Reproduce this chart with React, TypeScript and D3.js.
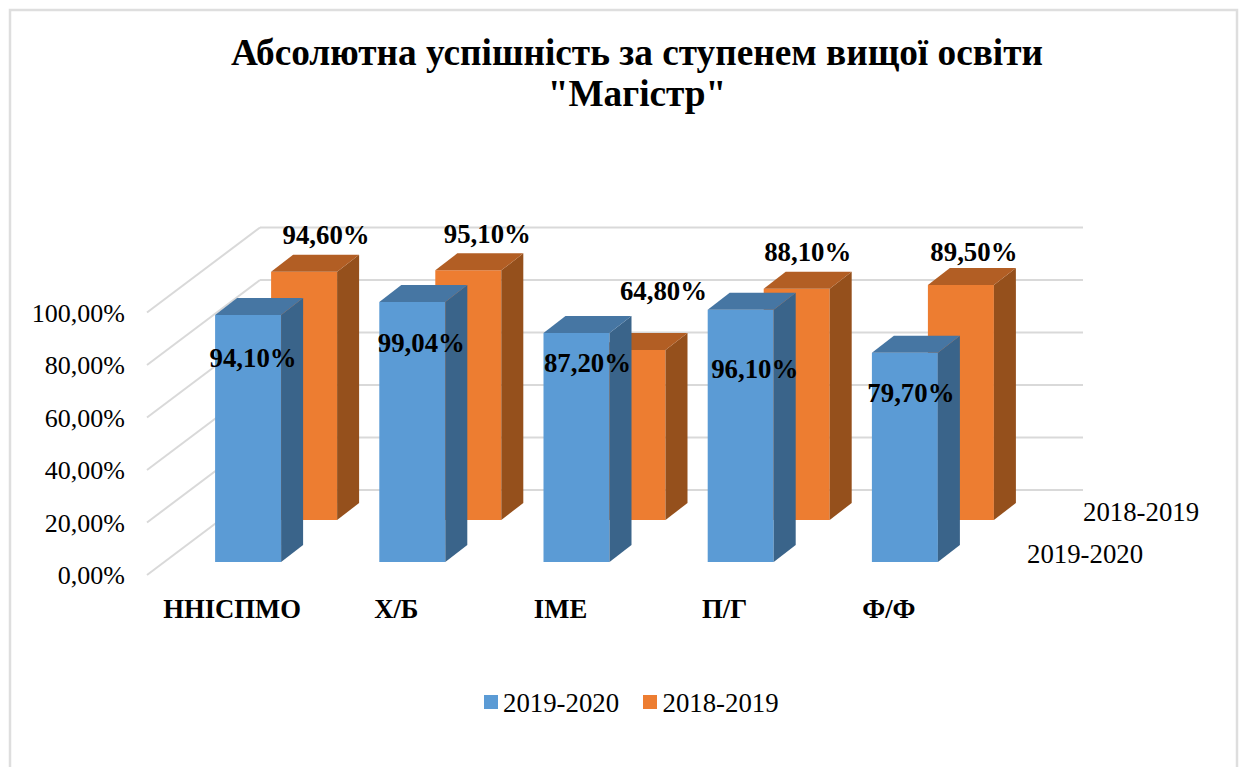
import React from "react";
import * as d3 from "d3";

const categories = ["ННІСПМО", "Х/Б", "ІМЕ", "П/Г", "Ф/Ф"];
const values1920 = [94.1, 99.04, 87.2, 96.1, 79.7];
const values1819 = [94.6, 95.1, 64.8, 88.1, 89.5];
const yTicks = [0, 20, 40, 60, 80, 100];
const seriesNames = ["2019-2020", "2018-2019"];
const titleLines = ["Абсолютна успішність за ступенем вищої освіти", "\"Магістр\""];

// data labels were dragged by hand in the original, so they carry their own offsets
const labelNudge1920 = [
  [5, 52],
  [9, 50],
  [11, 39],
  [14, 68],
  [6, 49],
];
const labelNudge1819 = [
  [22, -28],
  [19, -27],
  [31, -50],
  [11, -28],
  [13, -24],
];

const serif = "'Liberation Serif', 'Times New Roman', serif";

const x = d3.scaleBand<string>().domain(categories).range([150, 971]);
const height = d3.scaleLinear().domain([0, 100]).range([0, 262.5]);
const pct = d3.formatLocale({
  decimal: ",",
  thousands: " ",
  grouping: [3],
  currency: ["", ""],
}).format(".2f");
const fmt = (v: number) => pct(v) + "%";

const polygon = d3.line<number[]>().curve(d3.curveLinearClosed);

const barW = 66;
const depthX = 22;
const depthY = -17;

type BarProps = {
  left: number;
  base: number;
  h: number;
  face: string;
  side: string;
  top: string;
};

const Bar = ({ left, base, h, face, side, top }: BarProps) => {
  const t = base - h;
  const r = left + barW;
  return (
    <g>
      <path
        d={polygon([[left, base], [left, t], [r, t], [r, base]]) ?? ""}
        fill={face}
      />
      <path
        d={polygon([[r, base], [r, t], [r + depthX, t + depthY], [r + depthX, base + depthY]]) ?? ""}
        fill={side}
      />
      <path
        d={polygon([[left, t], [left + depthX, t + depthY], [r + depthX, t + depthY], [r, t]]) ?? ""}
        fill={top}
      />
    </g>
  );
};

export default function App() {
  const blueBase = 562;
  const orangeBase = 520;
  const floorFront = 575;
  const floorBack = 490;
  const wallLeft = 260;
  const wallRight = 1083;
  const blue = "#5B9BD5";
  const orange = "#ED7D31";

  const center = (c: string) => (x(c) ?? 0) + x.bandwidth() / 2;

  return (
    <svg
      width={1242}
      height={767}
      style={{ position: "absolute", left: 0, top: 0, background: "#fff" }}
      fontFamily={serif}
    >
      <rect x={10} y={10} width={1227} height={800} fill="#fff" stroke="#DEDEDE" strokeWidth={2.5} />

      {titleLines.map((line, i) => (
        <text key={i} x={637} y={65 + i * 41} textAnchor="middle" fontSize={37.3} fontWeight="bold">
          {line}
        </text>
      ))}

      {/* walls */}
      {yTicks.map((t) => (
        <g key={t} stroke="#D9D9D9" strokeWidth={2} fill="none">
          <line x1={147} y1={floorFront - height(t)} x2={wallLeft} y2={floorBack - height(t)} />
          <line x1={wallLeft} y1={floorBack - height(t)} x2={wallRight} y2={floorBack - height(t)} />
        </g>
      ))}

      {yTicks.map((t) => (
        <text key={t} x={125} y={floorFront + 9 - height(t)} textAnchor="end" fontSize={26}>
          {fmt(t)}
        </text>
      ))}

      {/* back row first, front row painted over it */}
      {categories.map((c, i) => (
        <Bar
          key={c}
          left={center(c) + 39}
          base={orangeBase}
          h={height(values1819[i])}
          face={orange}
          side="#95501C"
          top="#B25E24"
        />
      ))}
      {categories.map((c, i) => (
        <Bar
          key={c}
          left={center(c) - 17}
          base={blueBase}
          h={height(values1920[i])}
          face={blue}
          side="#3A648A"
          top="#4676A3"
        />
      ))}

      {categories.map((c, i) => (
        <text
          key={c}
          x={center(c) + 39 + barW / 2 + labelNudge1819[i][0]}
          y={orangeBase - height(values1819[i]) + labelNudge1819[i][1]}
          textAnchor="middle"
          fontSize={26.8}
          fontWeight="bold"
        >
          {fmt(values1819[i])}
        </text>
      ))}
      {categories.map((c, i) => (
        <text
          key={c}
          x={center(c) - 17 + barW / 2 + labelNudge1920[i][0]}
          y={blueBase - height(values1920[i]) + labelNudge1920[i][1]}
          textAnchor="middle"
          fontSize={26.8}
          fontWeight="bold"
        >
          {fmt(values1920[i])}
        </text>
      ))}

      {categories.map((c) => (
        <text key={c} x={center(c)} y={618} textAnchor="middle" fontSize={26.7} fontWeight="bold">
          {c}
        </text>
      ))}

      {/* depth axis labels */}
      <text x={1083} y={521} fontSize={26.8}>{seriesNames[1]}</text>
      <text x={1027} y={563} fontSize={26.8}>{seriesNames[0]}</text>

      {/* legend */}
      <rect x={484} y={695} width={14} height={14} fill={blue} />
      <text x={503} y={712} fontSize={26.8}>{seriesNames[0]}</text>
      <rect x={643} y={695} width={14} height={14} fill={orange} />
      <text x={662.5} y={712} fontSize={26.8}>{seriesNames[1]}</text>
    </svg>
  );
}
